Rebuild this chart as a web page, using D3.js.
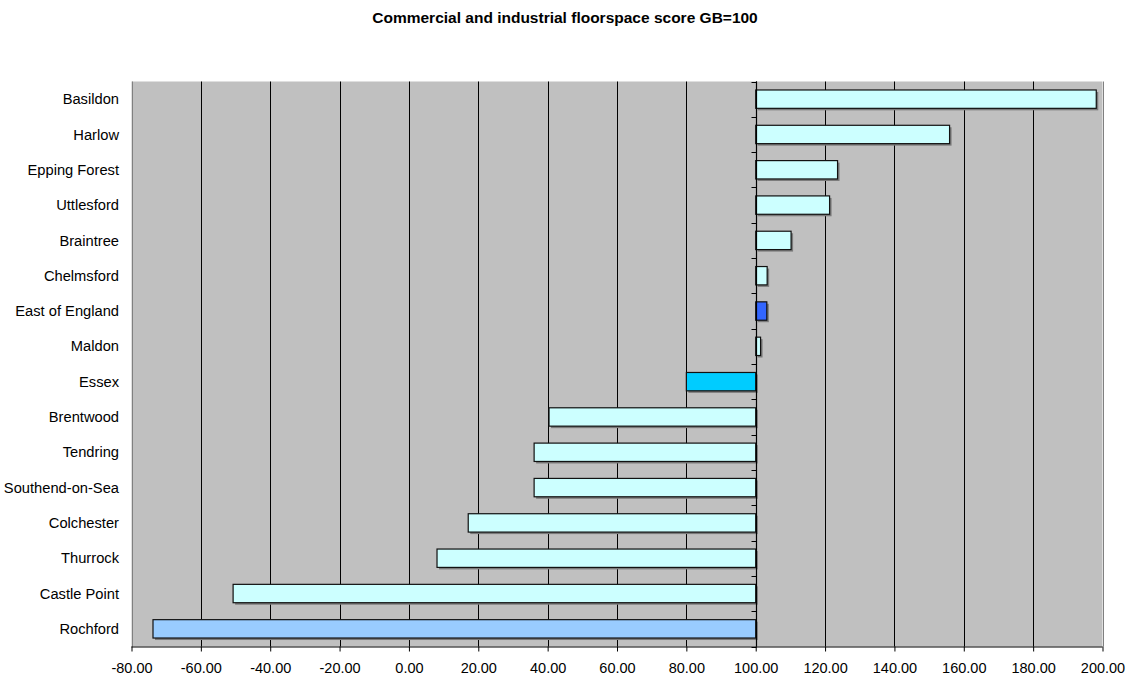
<!DOCTYPE html>
<html>
<head>
<meta charset="utf-8">
<script src="https://cdn.jsdelivr.net/npm/d3@7"></script>
<style>
  body { margin: 0; background: #fff; }
  svg { display: block; font-family: "Liberation Sans", Arial, sans-serif; }
</style>
</head>
<body>
<svg id="chart" width="1131" height="679"></svg>
<script>
// Floorspace score by area, GB = 100 (bars drawn from the GB baseline)
const areas = ["Basildon", "Harlow", "Epping Forest", "Uttlesford", "Braintree", "Chelmsford",
  "East of England", "Maldon", "Essex", "Brentwood", "Tendring", "Southend-on-Sea",
  "Colchester", "Thurrock", "Castle Point", "Rochford"];
const scores = [198.2, 155.9, 123.6, 121.3, 110.2, 103.3, 103.2, 101.4, 80.0, 40.4, 36.1, 36.1,
  17.1, 8.1, -50.7, -73.8];
const barColors = ["#CCFFFF", "#CCFFFF", "#CCFFFF", "#CCFFFF", "#CCFFFF", "#CCFFFF",
  "#3366FF", "#CCFFFF", "#00CCFF", "#CCFFFF", "#CCFFFF", "#CCFFFF",
  "#CCFFFF", "#CCFFFF", "#CCFFFF", "#99CCFF"];
const xTicks = [-80, -60, -40, -20, 0, 20, 40, 60, 80, 100, 120, 140, 160, 180, 200];
const baseline = 100;
const title = "Commercial and industrial floorspace score GB=100";

const svg = d3.select("#chart");
const plotLeft = 131.5, plotRight = 1102.5, plotTop = 81.5, plotBottom = 646.5;

const x = d3.scaleLinear().domain([-80, 200]).range([plotLeft, plotRight]);
const y = d3.scaleBand().domain(areas).range([plotTop, plotBottom]).paddingInner(0.48).paddingOuter(0.24);
const band = d3.scaleBand().domain(areas).range([plotTop, plotBottom]);

// title
svg.append("text")
  .attr("x", 565).attr("y", 23)
  .attr("text-anchor", "middle")
  .attr("font-size", 15.5).attr("font-weight", "bold")
  .text(title);

// plot background
svg.append("rect")
  .attr("x", plotLeft).attr("y", plotTop)
  .attr("width", plotRight - plotLeft).attr("height", plotBottom - plotTop)
  .attr("fill", "#C0C0C0");

// vertical gridlines
svg.append("g").selectAll("line")
  .data(xTicks)
  .join("line")
  .attr("x1", d => Math.round(x(d)) + 0.5).attr("x2", d => Math.round(x(d)) + 0.5)
  .attr("y1", plotTop).attr("y2", plotBottom)
  .attr("stroke", d => (d === -80 || d === 200) ? "#808080" : "#000")
  .attr("stroke-width", 1);

// bar shadows
svg.append("g").selectAll("rect")
  .data(areas)
  .join("rect")
  .attr("x", (d, i) => Math.min(x(scores[i]), x(baseline)) + 2)
  .attr("y", d => y(d) + 2)
  .attr("width", (d, i) => Math.abs(x(scores[i]) - x(baseline)))
  .attr("height", y.bandwidth())
  .attr("fill", "#7a7a7a");

// bars
svg.append("g").selectAll("rect")
  .data(areas)
  .join("rect")
  .attr("x", (d, i) => Math.min(x(scores[i]), x(baseline)))
  .attr("y", d => y(d))
  .attr("width", (d, i) => Math.abs(x(scores[i]) - x(baseline)))
  .attr("height", y.bandwidth())
  .attr("fill", (d, i) => barColors[i])
  .attr("stroke", "#111")
  .attr("stroke-width", 1.2);

// category axis at the GB baseline
const bx = Math.round(x(baseline)) + 0.5;
svg.append("line")
  .attr("x1", bx).attr("x2", bx).attr("y1", plotTop).attr("y2", plotBottom)
  .attr("stroke", "#000").attr("stroke-width", 1.2);
const boundaries = areas.map(d => band(d)).concat([plotBottom]);
svg.append("g").selectAll("line")
  .data(boundaries)
  .join("line")
  .attr("x1", bx - 5).attr("x2", bx)
  .attr("y1", d => Math.round(d) + 0.5).attr("y2", d => Math.round(d) + 0.5)
  .attr("stroke", "#000");

// category labels
svg.append("g").selectAll("text")
  .data(areas)
  .join("text")
  .attr("x", 119)
  .attr("y", d => band(d) + band.bandwidth() / 2)
  .attr("dy", "0.35em")
  .attr("text-anchor", "end")
  .attr("font-size", 14.7)
  .attr("fill", "#000")
  .text(d => d);

// value axis
const xAxis = d3.axisBottom(x)
  .tickValues(xTicks)
  .tickFormat(d => d3.format(".2f")(d).replace("\u2212", "-"))
  .tickSize(5)
  .tickPadding(11);
const ax = svg.append("g")
  .attr("transform", `translate(0,${plotBottom})`)
  .call(xAxis);
ax.select(".domain").attr("stroke", "#000").attr("d", `M${plotLeft},0.5H${plotRight}`);
ax.selectAll(".tick line").attr("stroke", "#000");
ax.selectAll(".tick text")
  .attr("font-size", 14.5)
  .attr("font-family", "Liberation Sans, Arial, sans-serif")
  .attr("fill", "#000");
</script>
</body>
</html>
